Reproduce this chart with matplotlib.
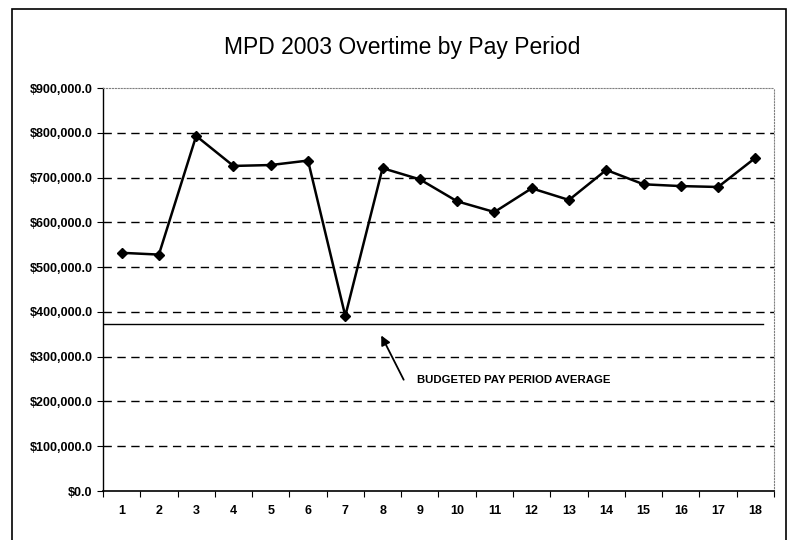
import matplotlib.pyplot as plt
import matplotlib.patches as patches
import numpy as np
from matplotlib.ticker import FuncFormatter

plt.rcParams['font.family'] = ['Liberation Sans', 'DejaVu Sans']

# ________DANE________________________________
pay_periods = list(range(1, 19))
overtime = [532000, 528000, 793000, 726000, 728000, 738000, 391000, 721000, 696000,
            647000, 623000, 676000, 650000, 717000, 685000, 681000, 679000, 744000]
budget_avg = 372000
y_ticks = [0, 100000, 200000, 300000, 400000, 500000, 600000, 700000, 800000, 900000]

fig = plt.figure(figsize=(7.89, 5.40), dpi=100)
ax = fig.add_axes([0.1305, 0.0907, 0.8505, 0.7463])

# ramka wykresu
fig.patches.append(patches.Rectangle((0.0152, -0.05), 0.981, 1.033, transform=fig.transFigure,
                                     fill=False, edgecolor='black', linewidth=1.2))

fig.text(0.51, 0.912, 'MPD 2003 Overtime by Pay Period', ha='center', va='center', fontsize=16.5)

for v in y_ticks[1:-1]:
    ax.axhline(v, color='black', linestyle=(0, (6, 4)), linewidth=1, zorder=1)

ax.plot([0.5, 18.2], [budget_avg, budget_avg], color='black', linewidth=1, zorder=2)
ax.plot(pay_periods, overtime, 'kD-', markersize=5, linewidth=1.8, zorder=3)

ax.annotate('', xy=(7.93, 353000), xytext=(8.6, 243000),
            arrowprops=dict(arrowstyle='-|>', color='black', linewidth=1.3, mutation_scale=14))
ax.text(8.92, 248000, 'BUDGETED PAY PERIOD AVERAGE', fontsize=8.2, fontweight='bold', va='center')

ax.set_xlim(0.5, 18.5)
ax.set_ylim(0, 900000)
ax.set_yticks(y_ticks)
ax.yaxis.set_major_formatter(FuncFormatter(lambda v, p: '${:,.1f}'.format(v)))
ax.set_xticks(np.arange(0.5, 19, 1))
ax.set_xticklabels([])
ax.set_xticks(pay_periods, minor=True)
ax.set_xticklabels([str(p) for p in pay_periods], minor=True)
ax.tick_params(axis='x', which='major', length=4, direction='out')
ax.tick_params(axis='x', which='minor', length=0, pad=10, labelsize=9)
ax.tick_params(axis='y', length=4, direction='out', labelsize=9)
for lab in ax.get_xticklabels(minor=True) + ax.get_yticklabels():
    lab.set_fontweight('bold')

ax.spines['top'].set_linestyle(':')
ax.spines['top'].set_color('gray')
ax.spines['right'].set_linestyle(':')
ax.spines['right'].set_color('gray')
ax.spines['left'].set_linewidth(1)
ax.spines['bottom'].set_linewidth(1.2)

plt.savefig('out.png', dpi=100)
